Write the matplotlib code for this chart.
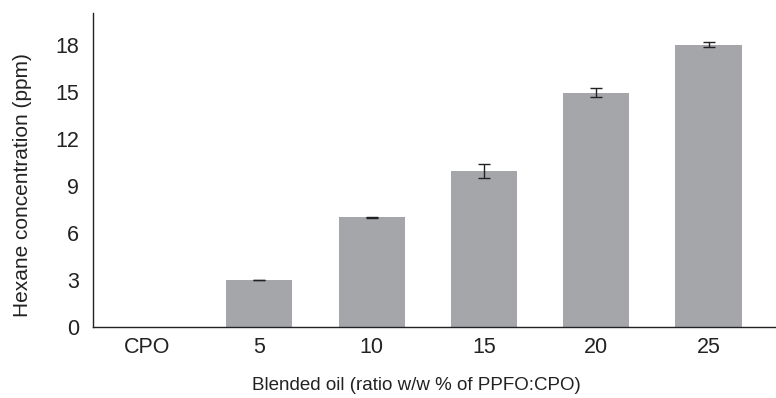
import matplotlib.pyplot as plt
import numpy as np

plt.rcParams['font.family'] = ['Liberation Sans', 'DejaVu Sans']

categories = ['CPO', '5', '10', '15', '20', '25']
hexane = [0, 3.0, 7.0, 9.95, 14.93, 18.0]
errors = [np.nan, 0.02, 0.04, 0.42, 0.29, 0.17]
yticks = [0, 3, 6, 9, 12, 15, 18]

fig = plt.figure(figsize=(7.76, 3.98), dpi=100)
ax = fig.add_axes([0.12, 0.178, 0.88, 0.789])

x = np.arange(len(categories))
ax.bar(x, hexane, width=0.59, color='#a5a6aa', yerr=errors,
       error_kw=dict(ecolor='#222222', elinewidth=1, capsize=4, capthick=1))

ax.set_xlim(-0.48, 5.6)
ax.set_ylim(0, 20)
ax.set_xticks(x)
ax.set_xticklabels(categories)
ax.set_yticks(yticks)
ax.tick_params(length=0, labelsize=15.5, colors='#222222')
ax.tick_params(axis='x', pad=7)
ax.tick_params(axis='y', pad=10)
for s in ['top', 'right']:
    ax.spines[s].set_visible(False)
for s in ['left', 'bottom']:
    ax.spines[s].set_color('#222222')
    ax.spines[s].set_linewidth(1)

ax.set_xlabel('Blended oil (ratio w/w % of PPFO:CPO)', fontsize=13.5, color='#222222', va='center')
ax.xaxis.set_label_coords(0.473, -0.185)
ax.set_ylabel('Hexane concentration (ppm)', fontsize=15, color='#222222', va='center')
ax.yaxis.set_label_coords(-0.104, 0.452)

fig.savefig('out.png', dpi=100)
